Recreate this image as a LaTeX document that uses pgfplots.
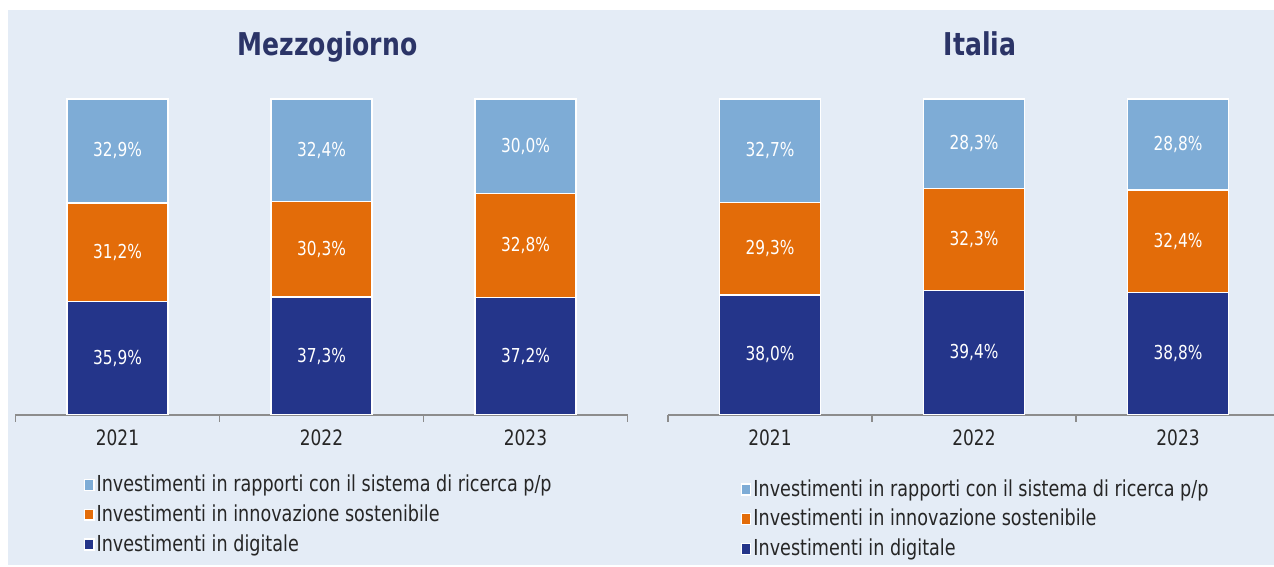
\documentclass[border=0pt]{standalone}
\usepackage{fontspec}
\setmainfont{DejaVu Sans}[FakeStretch=0.8]
\usepackage{pgfplots}
\usepackage{pgfplotstable}
\pgfplotsset{compat=1.18}
\definecolor{bgblue}{HTML}{E4ECF6}
\definecolor{lblue}{HTML}{7EACD6}
\definecolor{orng}{HTML}{E36C09}
\definecolor{navy}{HTML}{24358A}
\definecolor{titlec}{HTML}{2B3467}
\definecolor{axgray}{HTML}{8C8C8C}
\definecolor{txt}{HTML}{262626}

\pgfplotstableread{
x dig sos ric
0 35.9 31.2 32.9
1 37.3 30.3 32.4
2 37.2 32.8 30.0
}\mezzo
\pgfplotstableread{
x dig sos ric
0 38.0 29.3 32.7
1 39.4 32.3 28.3
2 38.8 32.4 28.8
}\italia

\pgfplotsset{
  panel/.style={
    ybar stacked,
    scale only axis,
    width=306pt, height=158pt,
    anchor=south west,
    xmin=-0.5, xmax=2.5, ymin=0, ymax=100,
    bar width=50.5pt,
    axis x line*=bottom,
    axis y line=none,
    /pgf/number format/assume math mode=true,
    x axis line style={draw=axgray,line width=0.8pt,-},
    xtick={0,1,2},
    xticklabels={2021,2022,2023},
    minor xtick={-0.5,0.5,1.5,2.5},
    major tick length=0pt,
    minor tick length=3.5pt,
    tick align=outside,
    minor x tick style={draw=axgray,line width=0.8pt},
    xticklabel style={font=\fontsize{10.6}{12}\selectfont, text=txt, anchor=north, inner sep=0pt, yshift=-7pt},
    title style={font=\fontsize{15.7}{18}\selectfont\bfseries, text=titlec, at={(0.5,1)}, anchor=base, yshift=15.5pt, xshift=3pt},
    nodes near coords={\pgfmathprintnumber[fixed,fixed zerofill,precision=1,use comma,assume math mode=true]{\rawy}\%},
    every node near coord/.append style={font=\fontsize{9.6}{11}\selectfont, text=white, anchor=center},
    legend image code/.code={\fill[#1] (0pt,-2.7pt) rectangle (4.6pt,2.7pt);},
    reverse legend,
    legend cell align=left,
    legend style={draw=none, fill=none, inner sep=0pt, outer sep=0pt, font=\fontsize{11}{13}\selectfont, text=txt, row sep=3pt, anchor=north west, nodes={inner sep=1pt}},
  },
  bar/.style={draw=white, line width=0.7pt, fill=#1},
}

\begin{document}
\begin{tikzpicture}
\path[use as bounding box, fill=white] (0,0) rectangle (637pt,283.5pt);
\fill[bgblue] (4pt,1pt) rectangle (637pt,278.5pt);

\begin{axis}[panel, at={(7.75pt,76pt)}, title={Mezzogiorno},
  legend style={at={(0.112,-0.184)}}]
\addplot[bar=navy, visualization depends on={\thisrow{dig}\as\rawy}] table[x=x,y=dig]{\mezzo};
\addplot[bar=orng, visualization depends on={\thisrow{sos}\as\rawy}] table[x=x,y=sos]{\mezzo};
\addplot[bar=lblue, visualization depends on={\thisrow{ric}\as\rawy}] table[x=x,y=ric]{\mezzo};
\legend{Investimenti in digitale, Investimenti in innovazione sostenibile, Investimenti in rapporti con il sistema di ricerca p/p}
\end{axis}

\begin{axis}[panel, at={(334pt,76pt)}, title={Italia},
  legend style={at={(0.119,-0.198)}}]
\addplot[bar=navy, visualization depends on={\thisrow{dig}\as\rawy}] table[x=x,y=dig]{\italia};
\addplot[bar=orng, visualization depends on={\thisrow{sos}\as\rawy}] table[x=x,y=sos]{\italia};
\addplot[bar=lblue, visualization depends on={\thisrow{ric}\as\rawy}] table[x=x,y=ric]{\italia};
\legend{Investimenti in digitale, Investimenti in innovazione sostenibile, Investimenti in rapporti con il sistema di ricerca p/p}
\end{axis}
\end{tikzpicture}
\end{document}
